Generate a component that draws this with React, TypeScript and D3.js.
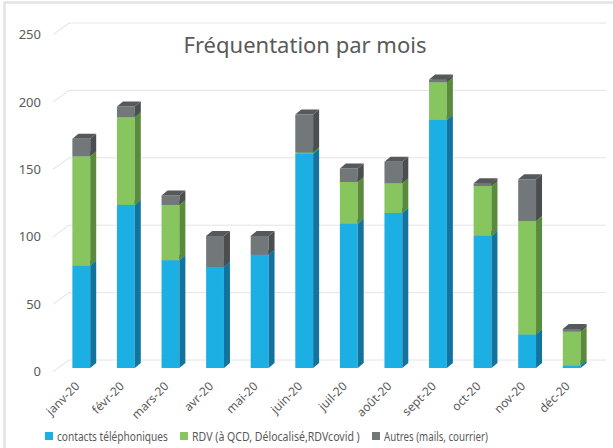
import React, { useEffect, useRef } from 'react';
import * as d3 from 'd3';

const months = ['janv-20', 'févr-20', 'mars-20', 'avr-20', 'mai-20', 'juin-20', 'juil-20', 'août-20', 'sept-20', 'oct-20', 'nov-20', 'déc-20'];
const contacts = [76, 121, 80, 75, 84, 159, 107, 115, 184, 98, 25, 2];
const rdv = [81, 65, 41, 0, 0, 1, 31, 22, 28, 37, 84, 25];
const autres = [13, 8, 7, 23, 14, 28, 10, 16, 2, 2, 31, 2];
const yTicks = [0, 50, 100, 150, 200, 250];
const seriesNames = ['contacts téléphoniques', 'RDV (à QCD, Délocalisé,RDVcovid )', 'Autres (mails, courrier)'];

const palette = [
  { front: '#1bafe4', side: '#13739f', top: '#1590c0' },
  { front: '#87c65f', side: '#5a8a3b', top: '#6fa64c' },
  { front: '#727779', side: '#4a4e50', top: '#56595b' },
];

const App: React.FC = () => {
  const svgRef = useRef<SVGSVGElement>(null);

  useEffect(() => {
    if (!svgRef.current) return;
    const W = 613;
    const H = 448;
    const svg = d3.select(svgRef.current).attr('width', W).attr('height', H).html('');
    const font = "'Noto Sans', sans-serif";
    const txt = '#595959';

    // chart frame
    svg.append('rect')
      .attr('x', 4.5).attr('y', 2.5)
      .attr('width', 640).attr('height', 480)
      .style('fill', '#fff').style('stroke', '#e3e3e3').style('stroke-width', 2.5);

    const depthX = 16;
    const depthY = 11.7;
    const yBack = d3.scaleLinear().domain([0, 250]).range([360, 23]);
    const yFront = d3.scaleLinear().domain([0, 250]).range([368, 31]);
    const x = d3.scaleBand<string>().domain(months).range([59, 594]).paddingInner(0.6).paddingOuter(0.3);

    // gridlines on back wall + floor diagonals
    yTicks.forEach(t => {
      const yb = yBack(t);
      svg.append('line')
        .attr('x1', 69).attr('x2', 606).attr('y1', yb).attr('y2', yb)
        .style('stroke', '#e4e4e4').style('stroke-width', 1);
      svg.append('line')
        .attr('x1', 69 - depthX).attr('y1', yb + depthY).attr('x2', 69).attr('y2', yb)
        .style('stroke', '#e0e0e0').style('stroke-width', 1);
      svg.append('text')
        .attr('x', 41).attr('y', yb + depthY).attr('dy', '0.35em')
        .attr('text-anchor', 'end')
        .style('font-family', font).style('font-size', '13px').style('fill', txt)
        .text(t);
    });

    // title
    svg.append('text')
      .attr('x', 305).attr('y', 53)
      .attr('text-anchor', 'middle')
      .style('font-family', font).style('font-size', '22px').style('fill', txt)
      .text('Fréquentation par mois');

    // 3D stacked bars
    const dx = 6;
    const dy = 5;
    const series = [contacts, rdv, autres];
    const bw = x.bandwidth();
    months.forEach((m, i) => {
      let base = 0;
      const x0 = x(m)!;
      series.forEach((vals, s) => {
        const v = vals[i];
        if (v <= 0) return;
        const y0 = yFront(base);
        const y1 = yFront(base + v);
        const c = palette[s];
        const g = svg.append('g');
        g.append('rect')
          .attr('x', x0).attr('y', y1).attr('width', bw).attr('height', y0 - y1)
          .style('fill', c.front);
        g.append('path')
          .attr('d', `M${x0 + bw},${y0} L${x0 + bw + dx},${y0 - dy} L${x0 + bw + dx},${y1 - dy} L${x0 + bw},${y1} Z`)
          .style('fill', c.side);
        g.append('path')
          .attr('d', `M${x0},${y1} L${x0 + dx},${y1 - dy} L${x0 + bw + dx},${y1 - dy} L${x0 + bw},${y1} Z`)
          .style('fill', c.top);
        base += v;
      });

      // month label
      const cx = x0 + bw / 2 - 4;
      svg.append('text')
        .attr('transform', `translate(${cx},${384}) rotate(-45)`)
        .attr('text-anchor', 'end')
        .attr('dy', '0.35em')
        .style('font-family', font).style('font-size', '12px').style('fill', txt)
        .text(m);
    });

    // legend (text squeezed horizontally to mimic the narrow source font)
    const legendX = [45, 180, 372];
    const legendW = [111, 168, 104];
    seriesNames.forEach((name, s) => {
      svg.append('rect')
        .attr('x', legendX[s]).attr('y', 432).attr('width', 8).attr('height', 8)
        .style('fill', palette[s].front);
      const t = svg.append('text')
        .attr('dy', '0.35em')
        .style('font-family', font).style('font-size', '13px').style('fill', txt)
        .text(name);
      const natural = (t.node() as SVGTextElement).getComputedTextLength() || legendW[s];
      const k = legendW[s] / natural;
      t.attr('transform', `translate(${legendX[s] + 12},436) scale(${k},1)`);
    });
  }, []);

  return (
    <div style={{ position: 'absolute', left: 0, top: 0 }}>
      <svg ref={svgRef} style={{ display: 'block' }} />
    </div>
  );
};

export default App;
